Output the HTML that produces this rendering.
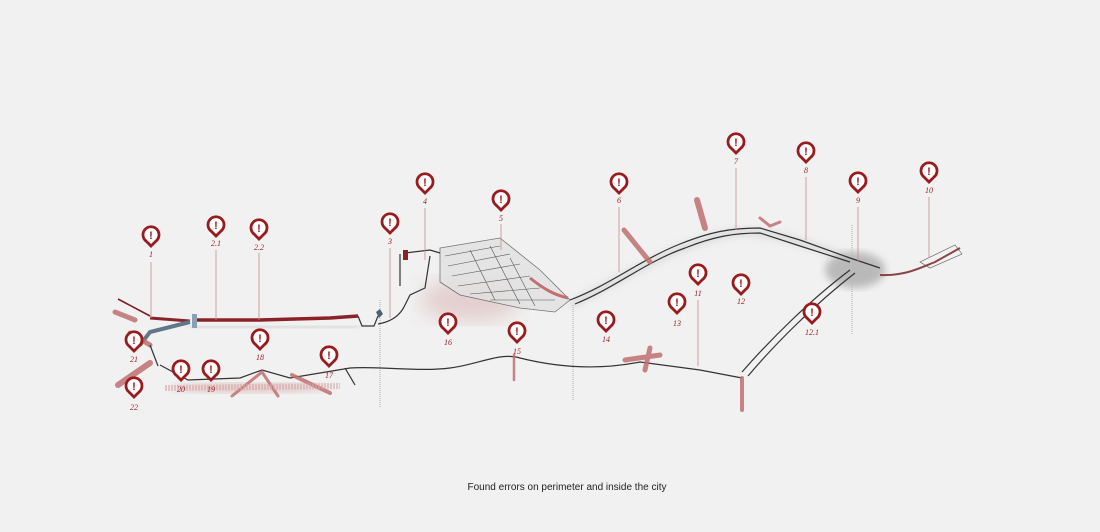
<!DOCTYPE html>
<html><head><meta charset="utf-8"><style>
html,body{margin:0;padding:0;background:#f1f1f1;}
svg{display:block}
.m{fill:#fff;stroke:#9a1b1e;stroke-width:2.8}
.x{font-family:"Liberation Sans",sans-serif;font-weight:bold;font-size:11px;fill:#9a1b1e;text-anchor:middle}
.l{font-family:"Liberation Serif",serif;font-style:italic;font-size:8px;fill:#9a1b1e;text-anchor:middle}
.v{stroke:#c98a8a;stroke-width:0.8;fill:none}
.p{fill:none;stroke:#333;stroke-width:1.2}
.r{fill:none;stroke:#c07070;stroke-linecap:round;opacity:.85}
</style></head><body>
<svg width="1100" height="532" viewBox="0 0 1100 532" xmlns="http://www.w3.org/2000/svg">
<defs>
<filter id="b"><feGaussianBlur stdDeviation="4"/></filter>
<filter id="b2"><feGaussianBlur stdDeviation="10"/></filter>
<g id="mk"><path class="m" d="M-5,6 L0,11 L5,6 A8,8 0 1 0 -5,6 Z"/></g>
</defs>
<rect width="1100" height="532" fill="#f1f1f1"/>

<ellipse cx="470" cy="300" rx="50" ry="22" fill="#d4a6a6" opacity=".45" filter="url(#b2)"/>
<ellipse cx="855" cy="270" rx="30" ry="18" fill="#777" opacity=".45" filter="url(#b)"/>
<ellipse cx="250" cy="388" rx="80" ry="5" fill="#d8b0b0" opacity=".6" filter="url(#b)"/>
<path d="M570,305 C620,280 680,240 740,232 C790,232 830,255 880,268" stroke="#bbb" stroke-width="6" fill="none" opacity=".5" filter="url(#b)"/>
<path d="M190,328 L360,326" stroke="#bbb" stroke-width="6" fill="none" opacity=".5" filter="url(#b)"/>

<g stroke="#bbb" stroke-width="1.2" stroke-dasharray="1 1">
<line x1="380" y1="300" x2="380" y2="408"/>
<line x1="573" y1="305" x2="573" y2="400"/>
<line x1="852" y1="225" x2="852" y2="335"/>
</g>

<path d="M118,299 L150,316" stroke="#7a1f24" stroke-width="1.6" fill="none"/>
<path d="M150,318 L190,321" stroke="#8a2228" stroke-width="3" fill="none"/>
<path d="M195,320 L260,320 L330,318 L358,316" stroke="#8a2228" stroke-width="3.5" fill="none"/>
<rect x="192" y="314" width="5" height="14" fill="#8aa0b5"/>
<path d="M358,316 L362,326 L374,326 L378,316" class="p" stroke-width=".8"/>
<path d="M376,312 l4,-3 3,5 -4,4z" fill="#4a6275"/>
<path d="M378,324 C390,322 400,316 405,305 L410,295 L425,288 L430,256" class="p" stroke-width=".8"/>
<path d="M190,322 L150,332 L140,345" stroke="#5e7888" stroke-width="4" fill="none"/>
<path d="M135,320 L115,312 M130,333 L150,345" class="r" stroke-width="5"/>

<path d="M440,248 L500,238 L540,270 L570,300 L555,312 L520,308 L460,295 L440,282 Z" fill="#e2e2e2" stroke="#555" stroke-width=".8" opacity=".8"/>
<g stroke="#555" stroke-width=".6" fill="none">
<path d="M445,256 L500,246 M448,266 L510,254 M452,276 L520,264 M458,286 L530,276 M470,294 L540,288 M490,300 L555,300"/>
<path d="M470,250 L495,300 M490,246 L520,304 M510,258 L535,306"/>
</g>
<path d="M405,253 L430,250 L440,253 M400,254 L400,286" class="p" stroke-width=".8"/>
<rect x="403" y="250" width="5" height="10" fill="#8a2228"/>
<path d="M530,278 C545,290 555,295 568,298" stroke="#c07070" stroke-width="3" fill="none"/>

<path d="M570,300 C610,285 640,260 680,244 C710,232 730,228 760,228 L800,240 L850,258 L880,268" class="p"/>
<path d="M575,304 C615,288 645,262 685,248 C715,236 735,233 760,233 L800,246 L850,262" class="p" stroke-width=".7"/>
<path d="M880,275 C905,276 920,268 935,262 L960,248" stroke="#8a4448" stroke-width="2" fill="none"/>
<path d="M920,262 L955,245 L962,254 L930,268Z" fill="none" stroke="#555" stroke-width=".6"/>
<path d="M624,230 L650,262" class="r" stroke-width="5"/>
<path d="M697,200 L705,228" class="r" stroke-width="6"/>
<path d="M760,218 L770,226 L780,222" class="r" stroke-width="3"/>
<path d="M850,270 C810,300 770,340 742,372" class="p"/>
<path d="M855,273 C815,304 775,344 748,376" class="p" stroke-width=".7"/>

<path d="M160,365 L188,380 L240,378 L262,370 L290,378 L350,368 C380,366 420,372 450,368 C480,364 500,352 520,358 C560,368 600,370 640,362 L700,370 L742,378" class="p"/>
<path d="M150,345 L158,366" class="p" stroke-width=".8"/>
<path d="M345,368 L355,385" class="p"/>
<path d="M742,378 L742,410" class="r" stroke-width="4"/>
<path d="M514,355 L514,380" class="r" stroke-width="2.5"/>
<path d="M625,360 L660,355 M650,348 L645,370" class="r" stroke-width="5"/>
<path d="M118,385 L150,363" class="r" stroke-width="6"/>
<path d="M232,396 L262,372 L278,396" class="r" stroke-width="3" stroke="#9a4a4a"/>
<path d="M292,375 L330,393" class="r" stroke-width="4"/>
<path d="M165,388 L340,386" stroke="#d9a8a8" stroke-width="6" fill="none" opacity=".6" stroke-dasharray="2 1"/>

<g class="v">
<line x1="151" y1="262" x2="151" y2="318"/>
<line x1="216" y1="250" x2="216" y2="320"/>
<line x1="259" y1="253" x2="259" y2="320"/>
<line x1="390" y1="248" x2="390" y2="318"/>
<line x1="425" y1="208" x2="425" y2="260"/>
<line x1="501" y1="224" x2="501" y2="250"/>
<line x1="619" y1="207" x2="619" y2="272"/>
<line x1="736" y1="168" x2="736" y2="230"/>
<line x1="806" y1="177" x2="806" y2="240"/>
<line x1="858" y1="207" x2="858" y2="262"/>
<line x1="929" y1="197" x2="929" y2="258"/>
<line x1="698" y1="300" x2="698" y2="366"/>
</g>

<g>
<use href="#mk" x="151" y="235"/><text class="x" x="151" y="239">!</text><text class="l" x="151" y="257">1</text>
<use href="#mk" x="216" y="225"/><text class="x" x="216" y="229">!</text><text class="l" x="216" y="246">2.1</text>
<use href="#mk" x="259" y="228"/><text class="x" x="259" y="232">!</text><text class="l" x="259" y="250">2.2</text>
<use href="#mk" x="390" y="222"/><text class="x" x="390" y="226">!</text><text class="l" x="390" y="244">3</text>
<use href="#mk" x="425" y="182"/><text class="x" x="425" y="186">!</text><text class="l" x="425" y="204">4</text>
<use href="#mk" x="501" y="199"/><text class="x" x="501" y="203">!</text><text class="l" x="501" y="221">5</text>
<use href="#mk" x="619" y="182"/><text class="x" x="619" y="186">!</text><text class="l" x="619" y="203">6</text>
<use href="#mk" x="736" y="142"/><text class="x" x="736" y="146">!</text><text class="l" x="736" y="164">7</text>
<use href="#mk" x="806" y="151"/><text class="x" x="806" y="155">!</text><text class="l" x="806" y="173">8</text>
<use href="#mk" x="858" y="181"/><text class="x" x="858" y="185">!</text><text class="l" x="858" y="203">9</text>
<use href="#mk" x="929" y="171"/><text class="x" x="929" y="175">!</text><text class="l" x="929" y="193">10</text>
<use href="#mk" x="698" y="273"/><text class="x" x="698" y="277">!</text><text class="l" x="698" y="296">11</text>
<use href="#mk" x="741" y="283"/><text class="x" x="741" y="287">!</text><text class="l" x="741" y="304">12</text>
<use href="#mk" x="812" y="312"/><text class="x" x="812" y="316">!</text><text class="l" x="812" y="335">12.1</text>
<use href="#mk" x="677" y="302"/><text class="x" x="677" y="306">!</text><text class="l" x="677" y="326">13</text>
<use href="#mk" x="606" y="320"/><text class="x" x="606" y="324">!</text><text class="l" x="606" y="342">14</text>
<use href="#mk" x="517" y="331"/><text class="x" x="517" y="335">!</text><text class="l" x="517" y="354">15</text>
<use href="#mk" x="448" y="322"/><text class="x" x="448" y="326">!</text><text class="l" x="448" y="345">16</text>
<use href="#mk" x="329" y="355"/><text class="x" x="329" y="359">!</text><text class="l" x="329" y="378">17</text>
<use href="#mk" x="260" y="338"/><text class="x" x="260" y="342">!</text><text class="l" x="260" y="360">18</text>
<use href="#mk" x="211" y="369"/><text class="x" x="211" y="373">!</text><text class="l" x="211" y="392">19</text>
<use href="#mk" x="181" y="369"/><text class="x" x="181" y="373">!</text><text class="l" x="181" y="392">20</text>
<use href="#mk" x="134" y="340"/><text class="x" x="134" y="344">!</text><text class="l" x="134" y="362">21</text>
<use href="#mk" x="134" y="386"/><text class="x" x="134" y="390">!</text><text class="l" x="134" y="410">22</text>
</g>

<text x="567" y="490" font-family="Liberation Sans, sans-serif" font-size="10" fill="#222" text-anchor="middle">Found errors on perimeter and inside the city</text>
</svg>
</body></html>
